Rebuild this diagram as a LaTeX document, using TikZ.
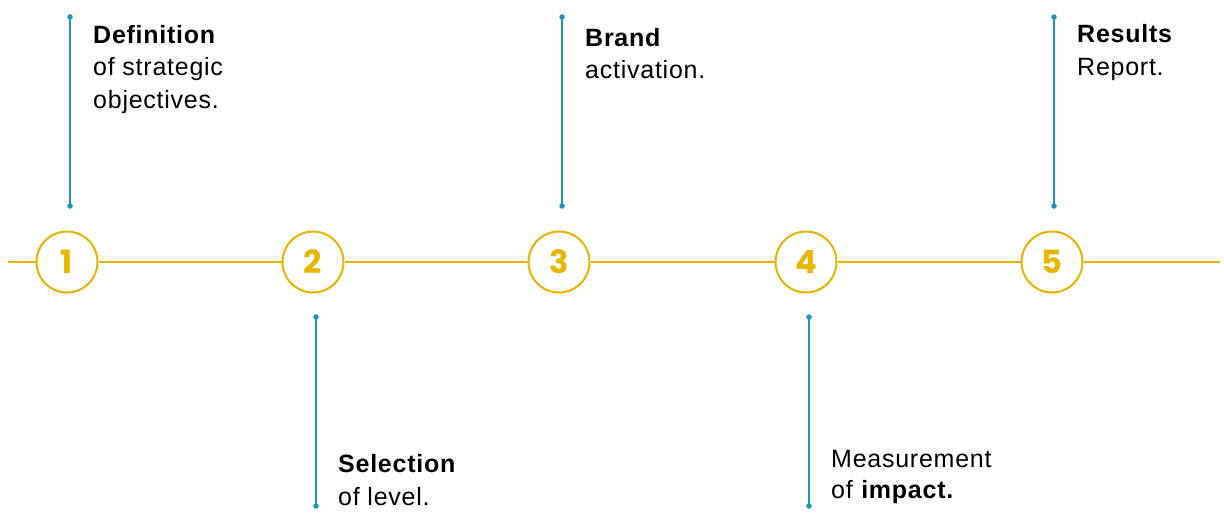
\documentclass[tikz,border=0pt]{standalone}
\usepackage{fontspec}
\setmainfont{Liberation Sans}[LetterSpace=3]
\newfontfamily\numfont{Poppins}
\definecolor{gold}{HTML}{E8B500}
\definecolor{teal}{HTML}{1A98B4}
\begin{document}
\begin{tikzpicture}[x=1pt,y=-1pt,
  stepcircle/.style={circle,draw=gold,line width=2pt,fill=white,minimum size=61pt,inner sep=0pt,
    font=\numfont\bfseries\fontsize{32}{32}\selectfont,text=gold},
  stem/.style={draw=teal,line width=1.8pt},
  dotend/.style={circle,fill=teal,inner sep=0pt,minimum size=5.5pt},
  txt/.style={anchor=base west,inner sep=0pt,font=\fontsize{25}{32}\selectfont,text=black}]
\useasboundingbox (0,0) rectangle (1224,519);
% timeline ends
\coordinate (L) at (8,262);
\coordinate (R) at (1220,262);
% circles
\node[stepcircle] (c1) at (67,262) {1};
\node[stepcircle] (c2) at (313,262) {2};
\node[stepcircle] (c3) at (559,262) {3};
\node[stepcircle] (c4) at (806,262) {4};
\node[stepcircle] (c5) at (1052,262) {5};
\draw[gold,line width=2.8pt] (L) -- (c1) -- (c2) -- (c3) -- (c4) -- (c5) -- (R);
% stems
\node[dotend] (a1) at (70,17) {};  \node[dotend] (b1) at (70,206) {};
\node[dotend] (a2) at (316,317) {}; \node[dotend] (b2) at (316,506) {};
\node[dotend] (a3) at (562,17) {};  \node[dotend] (b3) at (562,206) {};
\node[dotend] (a4) at (809,317) {}; \node[dotend] (b4) at (809,506) {};
\node[dotend] (a5) at (1054,17) {}; \node[dotend] (b5) at (1054,206) {};
\foreach \i in {1,...,5} \draw[stem] (a\i.center) -- (b\i.center);
% texts
\node[txt] (t1a) at (93,44) {\textbf{Definition}};
\node[txt] (t1b) at (93,76) {of strategic};
\node[txt] (t1c) at (93,108) {objectives.};
\node[txt] (t2a) at (338,472) {\textbf{Selection}};
\node[txt] (t2b) at (338,505) {of level.};
\node[txt] (t3a) at (585,47) {\textbf{Brand}};
\node[txt] (t3b) at (585,79) {activation.};
\node[txt] (t4a) at (831,467) {Measurement};
\node[txt] (t4b) at (831,498) {of \textbf{impact.}};
\node[txt] (t5a) at (1077,43) {\textbf{Results}};
\node[txt] (t5b) at (1077,75) {Report.};
\end{tikzpicture}
\end{document}
